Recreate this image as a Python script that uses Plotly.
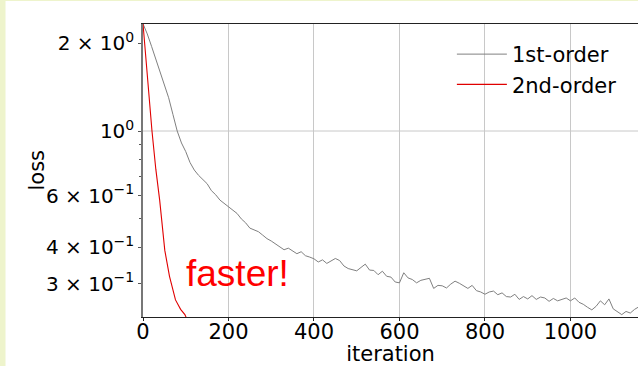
import math
import plotly.graph_objects as go

# ---- data ----
iter_1st = list(range(0, 1170, 10))
loss_1st = [
    2.33, 2.15, 1.95, 1.77, 1.60, 1.45, 1.30, 1.14, 1.00, 0.91,
    0.85, 0.78, 0.735, 0.705, 0.68, 0.66, 0.625, 0.605, 0.58, 0.565,
    0.55, 0.538, 0.522, 0.50, 0.485, 0.465, 0.457, 0.452, 0.44, 0.428,
    0.42, 0.41, 0.402, 0.392, 0.397, 0.388, 0.38, 0.386, 0.374, 0.37,
    0.365, 0.356, 0.362, 0.352, 0.358, 0.366, 0.36, 0.345, 0.338, 0.334,
    0.332, 0.341, 0.35, 0.334, 0.333, 0.322, 0.331, 0.318, 0.316, 0.304,
    0.302, 0.327, 0.314, 0.31, 0.302, 0.308, 0.31, 0.313, 0.289, 0.296,
    0.295, 0.29, 0.299, 0.306, 0.301, 0.294, 0.289, 0.296, 0.284, 0.281,
    0.276, 0.281, 0.283, 0.275, 0.279, 0.271, 0.27, 0.276, 0.265, 0.271,
    0.266, 0.273, 0.265, 0.27, 0.268, 0.261, 0.267, 0.262, 0.265, 0.268,
    0.262, 0.268, 0.259, 0.255, 0.249, 0.244, 0.251, 0.262, 0.254, 0.266,
    0.246, 0.24, 0.235, 0.241, 0.238, 0.245, 0.25,
]
iter_2nd = [0, 10, 21, 30, 39, 51, 62, 76, 88, 98, 102]
loss_2nd = [2.33, 1.53, 1.0, 0.74, 0.58, 0.39, 0.318, 0.264, 0.245, 0.235, 0.228]

y_tickvals = [2, 1, 0.6, 0.4, 0.3]
y_ticktext = ["2 × 10<sup>0</sup>", "10<sup>0</sup>", "6 × 10<sup>−1</sup>",
              "4 × 10<sup>−1</sup>", "3 × 10<sup>−1</sup>"]
y_minor = [0.3, 0.4, 0.5, 0.6, 0.7, 0.8, 0.9, 2]
x_tickvals = [0, 200, 400, 600, 800, 1000]

FONT = "DejaVu Sans"
FS = 21

fig = go.Figure()
fig.add_trace(go.Scatter(x=iter_1st, y=loss_1st, mode="lines", name="1st-order",
                         line=dict(color="#808080", width=1)))
fig.add_trace(go.Scatter(x=iter_2nd, y=loss_2nd, mode="lines", name="2nd-order",
                         line=dict(color="#e00000", width=1.1)))

fig.update_layout(
    width=638, height=366,
    margin=dict(l=143, r=0, t=24, b=49),
    paper_bgcolor="white", plot_bgcolor="white",
    font=dict(family=FONT, size=FS, color="black"),
    showlegend=True,
    legend=dict(x=0.624, y=0.966, xanchor="left", yanchor="top", itemwidth=50,
                bgcolor="rgba(0,0,0,0)", font=dict(size=FS, family=FONT)),
    xaxis=dict(range=[0, 1158], tickvals=x_tickvals, showgrid=True,
               gridcolor="#c8c8c8", gridwidth=1, zeroline=False,
               showline=True, linecolor="#222", linewidth=1, mirror=True,
               ticks="outside", ticklen=3, tickcolor="#222",
               ticklabelstandoff=-7,
               title=dict(text="iteration", standoff=0, font=dict(size=FS)),
               tickfont=dict(size=FS)),
    yaxis=dict(type="log", range=[-0.637, 0.3665], tickvals=y_tickvals,
               ticktext=y_ticktext, showgrid=False, zeroline=False,
               showline=True, linecolor="#777", linewidth=1.5,
               ticks="outside", ticklen=3, tickcolor="#555",
               minor=dict(tickvals=y_minor, ticks="outside", ticklen=2.5,
                          tickcolor="#555", showgrid=False),
               tickfont=dict(size=20)),
    shapes=[
        dict(type="line", xref="x", yref="y", x0=0, x1=1158, y0=1, y1=1,
             line=dict(color="#c8c8c8", width=1), layer="below"),
        dict(type="rect", xref="paper", yref="paper", x0=-143/495, x1=-137.5/495,
             y0=-49/293, y1=(293+24)/293, line=dict(width=0), fillcolor="#eef4cc"),
        dict(type="rect", xref="paper", yref="paper", x0=-143/495, x1=1,
             y0=(293+23)/293, y1=(293+24)/293, line=dict(width=0), fillcolor="#eef4cc"),
    ],
    annotations=[
        dict(text="faster!", xref="x", yref="y", x=220, y=math.log10(0.325),
             showarrow=False,
             font=dict(family="Liberation Sans", size=37, color="#ff0000")),
        dict(text="loss", xref="paper", yref="paper", x=-107/495, y=0.5,
             xanchor="center", yanchor="middle", textangle=-90, showarrow=False,
             font=dict(family=FONT, size=FS, color="black")),
    ],
)

fig.write_html("out.html", config={"displayModeBar": False},
               post_script="document.body.style.margin='0';document.body.style.padding='0';")
